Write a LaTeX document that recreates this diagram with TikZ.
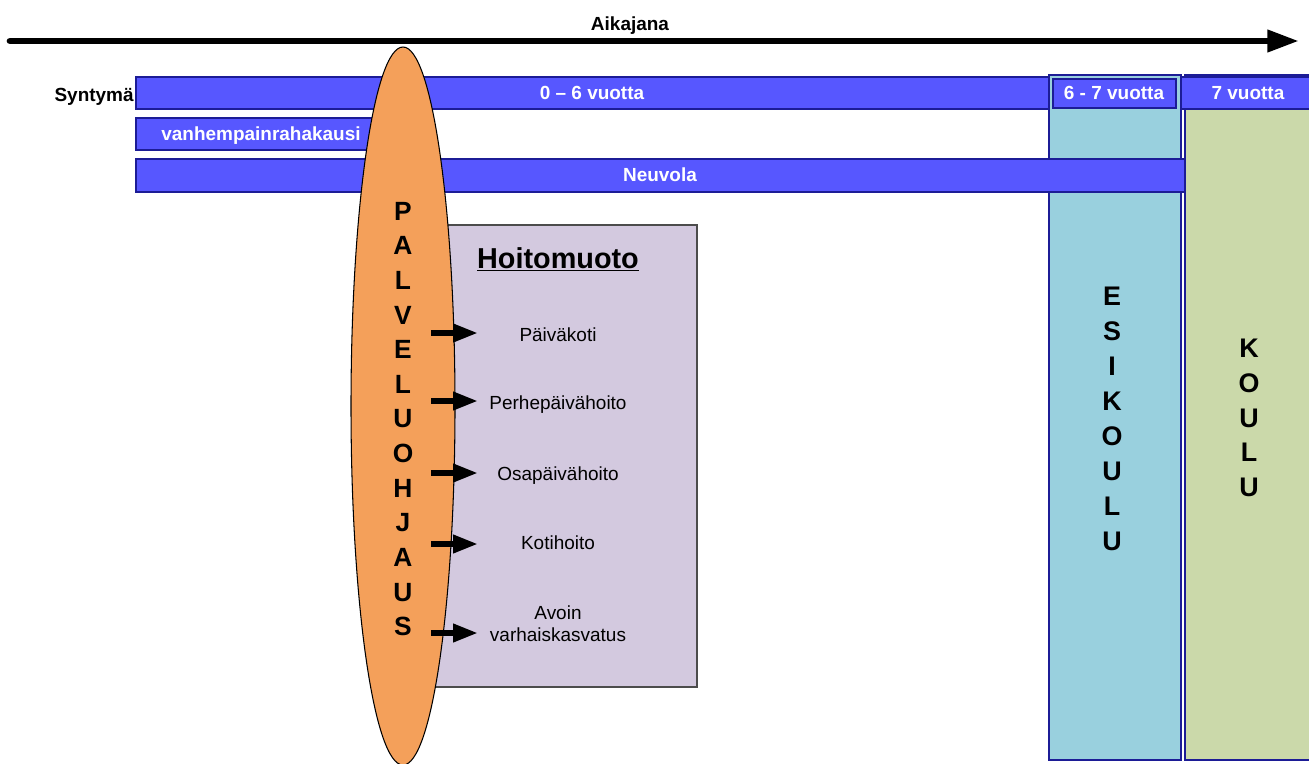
\documentclass[tikz,border=0pt]{standalone}
\usepackage{fontspec}
\setmainfont{Liberation Sans}
\usepackage{xcolor}
\usetikzlibrary{arrows.meta}

\definecolor{barblue}{HTML}{5757FF}
\definecolor{barline}{HTML}{1C1C96}
\definecolor{esiblue}{HTML}{99D0DE}
\definecolor{koulugreen}{HTML}{CBD9AA}
\definecolor{hoitolilac}{HTML}{D3C9DF}
\definecolor{ohjausorange}{HTML}{F4A05A}

\begin{document}
\begin{tikzpicture}[x=0.02cm,y=-0.02cm,
  bar/.style={fill=barblue,draw=barline,line width=0.6pt},
  bartext/.style={text=white,font=\fontsize{10.8}{13}\selectfont\bfseries,inner sep=0pt,anchor=base},
  column/.style={draw=barline,line width=0.8pt},
  letters/.style={align=center,inner sep=0pt},
  item/.style={text width=3.2cm,align=center,inner sep=0pt,font=\fontsize{10.8}{12.5}\selectfont},
  itemarrow/.style={line width=3pt,-{Triangle[length=14pt,width=10pt]}},
  timeline/.style={line width=3.8pt,line cap=round,-{Triangle[length=18pt,width=12pt]}}]
\useasboundingbox (0,0) rectangle (1309,764);

% Timeline
\coordinate (tstart) at (10,41);
\coordinate (tend) at (1299,41);
\draw[timeline] (tstart) -- (tend);
\node[bartext,text=black] (aikajana) at (630,31) {Aikajana};

% Esikoulu and koulu columns
\draw[column,fill=esiblue] (1049,75) rectangle (1181,760);
\draw[column,fill=koulugreen] (1185,75) rectangle (1311,760);

% Age bars
\draw[bar] (136,77) rectangle (1049,109);
\node[bartext,text=black,anchor=base east] (syntyma) at (134,101.5) {Syntymä};
\node[bartext] (age06) at (592,99.3) {0 – 6 vuotta};
\draw[bar] (1053,79) rectangle (1176,108);
\node[bartext] (age67) at (1114,99.3) {6 - 7 vuotta};
\draw[bar] (1181,77) rectangle (1311,109);
\node[bartext] (age7) at (1248,99.3) {7 vuotta};

% Vanhempainrahakausi
\draw[bar] (136,118) rectangle (380,150);
\node[bartext] (vanhempainraha) at (261,140) {vanhempainrahakausi};

% Neuvola
\draw[bar] (136,159) rectangle (1185,192);
\node[bartext] (neuvola) at (660,181.7) {Neuvola};

% Hoitomuoto box
\draw[fill=hoitolilac,draw=gray!60!black,line width=0.8pt] (420,225) rectangle (697,687);
\node[font=\fontsize{16.4}{20}\selectfont\bfseries,anchor=base,inner sep=0pt] (hoitomuoto) at (558,268) {\underline{Hoitomuoto}};

% Palveluohjaus
\draw[fill=ohjausorange,line width=0.6pt] (403,406) ellipse [x radius=52,y radius=359];
\node[letters,font=\fontsize{15}{19.7}\selectfont\bfseries] (palveluohjaus) at (403,419) {P\\A\\L\\V\\E\\L\\U\\O\\H\\J\\A\\U\\S};

% Care forms
\node[item,anchor=base] (paivakoti) at (558,341) {Päiväkoti};
\node[item,anchor=base] (perhe) at (558,409.5) {Perhepäivähoito};
\node[item,anchor=base] (osa) at (558,480) {Osapäivähoito};
\node[item,anchor=base] (koti) at (558,549.5) {Kotihoito};
\node[item] (avoin) at (558,624) {Avoin\\varhaiskasvatus};

\coordinate (a1) at (431,333);
\coordinate (a2) at (431,401);
\coordinate (a3) at (431,473);
\coordinate (a4) at (431,544);
\coordinate (a5) at (431,633);
\draw[itemarrow] (a1) -- (a1 -| paivakoti.west);
\draw[itemarrow] (a2) -- (a2 -| perhe.west);
\draw[itemarrow] (a3) -- (a3 -| osa.west);
\draw[itemarrow] (a4) -- (a4 -| koti.west);
\draw[itemarrow] (a5) -- (a5 -| avoin.west);

% Column labels
\node[letters,font=\fontsize{15.3}{19.9}\selectfont\bfseries] (esikoulu) at (1112,419) {E\\S\\I\\K\\O\\U\\L\\U};
\node[letters,font=\fontsize{15.3}{19.8}\selectfont\bfseries] (koulu) at (1249,418) {K\\O\\U\\L\\U};
\end{tikzpicture}
\end{document}
